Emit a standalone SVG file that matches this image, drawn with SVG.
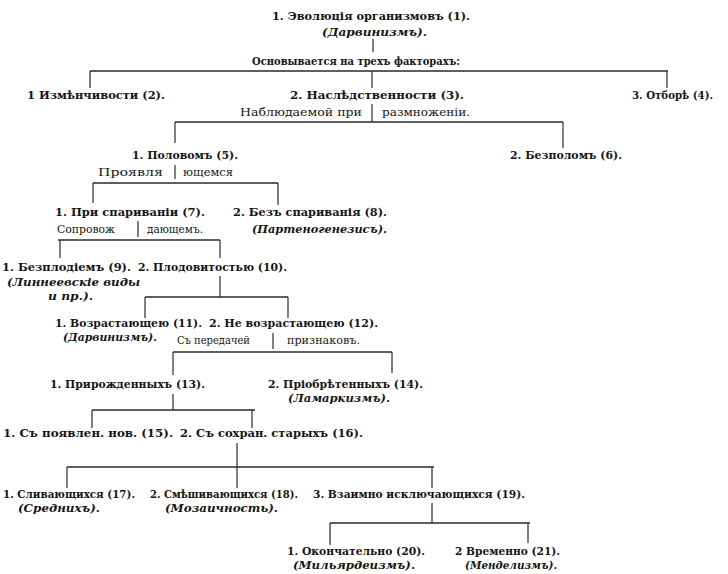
<svg xmlns="http://www.w3.org/2000/svg" width="728" height="574" viewBox="0 0 728 574">
<style>
text{font-family:"DejaVu Serif","Liberation Serif",serif;fill:#151515}
.t{font-size:11.5px;font-weight:bold}
.i{font-size:11.5px;font-weight:bold;font-style:italic}
.l{font-size:10.5px;font-weight:normal}
.lb{font-size:11.5px;font-weight:bold}
.c line{stroke:#2a2a2a;stroke-width:1.2}
.c line.h{stroke-width:1.6}
</style>
<rect width="728" height="574" fill="#fff"/>
<g class="c" id="connectors">
<line x1="373" y1="39" x2="373" y2="52"/>
<text class="lb" x="252" y="65" textLength="208" lengthAdjust="spacingAndGlyphs">Основывается на трехъ факторахъ:</text>
<line class="h" x1="90" y1="71" x2="668" y2="71"/>
<line x1="90" y1="71" x2="90" y2="88"/>
<line x1="372" y1="71" x2="372" y2="88"/>
<line x1="667" y1="71" x2="667" y2="88"/>
<text class="l" x="240" y="116" textLength="122" lengthAdjust="spacingAndGlyphs">Наблюдаемой при</text>
<line x1="372" y1="104" x2="372" y2="122"/>
<text class="l" x="382" y="116" textLength="88" lengthAdjust="spacingAndGlyphs">размноженіи.</text>
<line class="h" x1="175" y1="122" x2="563" y2="122"/>
<line x1="175" y1="122" x2="175" y2="143"/>
<line x1="563" y1="122" x2="563" y2="148"/>
<text class="l" x="98" y="176" textLength="65" lengthAdjust="spacingAndGlyphs">Проявля</text>
<line x1="175" y1="165" x2="175" y2="179"/>
<text class="l" x="183" y="176" textLength="50" lengthAdjust="spacingAndGlyphs">ющемся</text>
<line class="h" x1="93" y1="183" x2="278" y2="183"/>
<line x1="93" y1="183" x2="93" y2="203"/>
<line x1="278" y1="183" x2="278" y2="205"/>
<text class="l" x="57" y="233" textLength="58" lengthAdjust="spacingAndGlyphs">Сопровож</text>
<line x1="138" y1="221" x2="138" y2="237"/>
<text class="l" x="147" y="233" textLength="56" lengthAdjust="spacingAndGlyphs">дающемъ.</text>
<line class="h" x1="58" y1="240" x2="220" y2="240"/>
<line x1="60" y1="240" x2="60" y2="258"/>
<line x1="220" y1="240" x2="220" y2="258"/>
<line x1="220" y1="276" x2="220" y2="297"/>
<line class="h" x1="145" y1="297" x2="288" y2="297"/>
<line x1="145" y1="297" x2="145" y2="318"/>
<line x1="288" y1="297" x2="288" y2="318"/>
<text class="l" x="177" y="344" textLength="73" lengthAdjust="spacingAndGlyphs">Съ передачей</text>
<line x1="273" y1="333" x2="273" y2="349"/>
<text class="l" x="287" y="344" textLength="73" lengthAdjust="spacingAndGlyphs">признаковъ.</text>
<line class="h" x1="173" y1="352" x2="392" y2="352"/>
<line x1="173" y1="352" x2="173" y2="375"/>
<line x1="392" y1="352" x2="392" y2="373"/>
<line x1="173" y1="394" x2="173" y2="410"/>
<line class="h" x1="92" y1="410" x2="255" y2="410"/>
<line x1="92" y1="410" x2="92" y2="428"/>
<line x1="252" y1="410" x2="252" y2="428"/>
<line x1="237" y1="443" x2="237" y2="467"/>
<line class="h" x1="67" y1="467" x2="434" y2="467"/>
<line x1="67" y1="467" x2="67" y2="488"/>
<line x1="237" y1="467" x2="237" y2="488"/>
<line x1="432" y1="467" x2="432" y2="488"/>
<line x1="432" y1="503" x2="432" y2="523"/>
<line class="h" x1="330" y1="523" x2="530" y2="523"/>
<line x1="330" y1="523" x2="330" y2="545"/>
<line x1="528" y1="523" x2="528" y2="543"/>
</g>
<g id="n1"><text class="t" x="272" y="20" textLength="198" lengthAdjust="spacingAndGlyphs">1. Эволюція организмовъ (1).</text><text class="i" x="322" y="36" textLength="105" lengthAdjust="spacingAndGlyphs">(Дарвинизмъ).</text></g>
<g id="n2"><text class="t" x="27" y="99" textLength="138" lengthAdjust="spacingAndGlyphs">1 Измѣнчивости (2).</text></g>
<g id="n3"><text class="t" x="290" y="99" textLength="174" lengthAdjust="spacingAndGlyphs">2. Наслѣдственности (3).</text></g>
<g id="n4"><text class="t" x="632" y="99" textLength="81" lengthAdjust="spacingAndGlyphs">3. Отборѣ (4).</text></g>
<g id="n5"><text class="t" x="132" y="159" textLength="106" lengthAdjust="spacingAndGlyphs">1. Половомъ (5).</text></g>
<g id="n6"><text class="t" x="510" y="159" textLength="112" lengthAdjust="spacingAndGlyphs">2. Безполомъ (6).</text></g>
<g id="n7"><text class="t" x="55" y="216" textLength="150" lengthAdjust="spacingAndGlyphs">1. При спариваніи (7).</text></g>
<g id="n8"><text class="t" x="233" y="216" textLength="154" lengthAdjust="spacingAndGlyphs">2. Безъ спариванія (8).</text><text class="i" x="252" y="233" textLength="135" lengthAdjust="spacingAndGlyphs">(Партеногенезисъ).</text></g>
<g id="n9"><text class="t" x="2" y="271" textLength="129" lengthAdjust="spacingAndGlyphs">1. Безплодіемъ (9).</text><text class="i" x="7" y="286" textLength="133" lengthAdjust="spacingAndGlyphs">(Линнеевскіе виды</text><text class="i" x="48" y="300" textLength="45" lengthAdjust="spacingAndGlyphs">и пр.).</text></g>
<g id="n10"><text class="t" x="138" y="271" textLength="149" lengthAdjust="spacingAndGlyphs">2. Плодовитостью (10).</text></g>
<g id="n11"><text class="t" x="55" y="327" textLength="147" lengthAdjust="spacingAndGlyphs">1. Возрастающею (11).</text><text class="i" x="63" y="341" textLength="94" lengthAdjust="spacingAndGlyphs">(Дарвинизмъ).</text></g>
<g id="n12"><text class="t" x="209" y="327" textLength="169" lengthAdjust="spacingAndGlyphs">2. Не возрастающею (12).</text></g>
<g id="n13"><text class="t" x="50" y="388" textLength="155" lengthAdjust="spacingAndGlyphs">1. Прирожденныхъ (13).</text></g>
<g id="n14"><text class="t" x="268" y="388" textLength="155" lengthAdjust="spacingAndGlyphs">2. Пріобрѣтенныхъ (14).</text><text class="i" x="288" y="402" textLength="102" lengthAdjust="spacingAndGlyphs">(Ламаркизмъ).</text></g>
<g id="n15"><text class="t" x="3" y="437" textLength="170" lengthAdjust="spacingAndGlyphs">1. Съ появлен. нов. (15).</text></g>
<g id="n16"><text class="t" x="180" y="437" textLength="183" lengthAdjust="spacingAndGlyphs">2. Съ сохран. старыхъ (16).</text></g>
<g id="n17"><text class="t" x="3" y="498" textLength="132" lengthAdjust="spacingAndGlyphs">1. Сливающихся (17).</text><text class="i" x="18" y="512" textLength="82" lengthAdjust="spacingAndGlyphs">(Среднихъ).</text></g>
<g id="n18"><text class="t" x="150" y="498" textLength="148" lengthAdjust="spacingAndGlyphs">2. Смѣшивающихся (18).</text><text class="i" x="165" y="512" textLength="113" lengthAdjust="spacingAndGlyphs">(Мозаичность).</text></g>
<g id="n19"><text class="t" x="313" y="498" textLength="212" lengthAdjust="spacingAndGlyphs">3. Взаимно исключающихся (19).</text></g>
<g id="n20"><text class="t" x="287" y="555" textLength="138" lengthAdjust="spacingAndGlyphs">1. Окончательно (20).</text><text class="i" x="293" y="569" textLength="122" lengthAdjust="spacingAndGlyphs">(Мильярдеизмъ).</text></g>
<g id="n21"><text class="t" x="455" y="555" textLength="105" lengthAdjust="spacingAndGlyphs">2 Временно (21).</text><text class="i" x="465" y="569" textLength="92" lengthAdjust="spacingAndGlyphs">(Менделизмъ).</text></g>
</svg>
